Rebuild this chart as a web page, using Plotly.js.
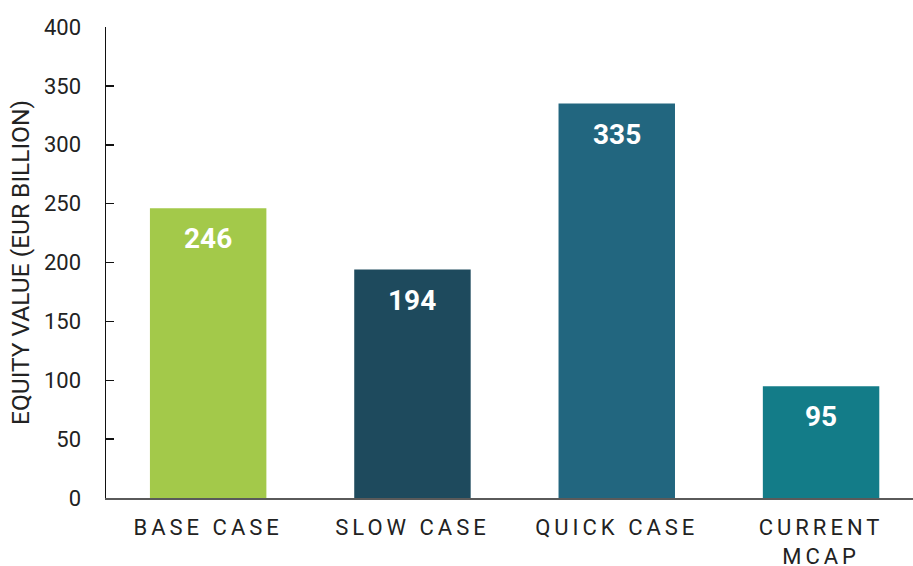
<!DOCTYPE html>
<html>
<head>
<meta charset="utf-8">
<script src="https://cdn.plot.ly/plotly-3.0.1.min.js"></script>
<style>
html,body{margin:0;padding:0;background:#fff;}
#chart{width:913px;height:566px;}
.xtick text{letter-spacing:4px;}
</style>
</head>
<body>
<div id="chart"></div>
<script>
const categories = ["BASE CASE", "SLOW CASE", "QUICK CASE", "CURRENT<br>MCAP"];
const values = [246, 194, 335, 95];
const barColors = ["#a3c94a", "#1e4a5d", "#22667f", "#137c88"];
const yTicks = [0, 50, 100, 150, 200, 250, 300, 350, 400];

const trace = {
  type: "bar",
  x: categories,
  y: values,
  marker: {color: barColors, line: {width: 0}},
  hoverinfo: "none",
  showlegend: false
};

const annotations = categories.map((c, i) => ({
  x: c, y: values[i], xref: "x", yref: "y",
  text: String(values[i]),
  showarrow: false,
  yanchor: "top",
  yshift: -12,
  font: {family: "Roboto", size: 28, color: "#ffffff", weight: 700}
}));

const layout = {
  width: 913, height: 566,
  margin: {l: 106, r: 0, t: 27, b: 68},
  paper_bgcolor: "#fff",
  plot_bgcolor: "#fff",
  bargap: 0.43,
  font: {family: "Roboto", color: "#222"},
  xaxis: {
    type: "category",
    range: [-0.5, 3.45],
    showline: true, linecolor: "#5a5a5a", linewidth: 2,
    ticks: "", showgrid: false, zeroline: false,
    tickfont: {family: "Roboto", size: 22, color: "#222"},
    ticklabelstandoff: 9,
    fixedrange: true
  },
  yaxis: {
    range: [0, 400],
    tickvals: yTicks,
    showline: true, linecolor: "#111", linewidth: 1.5,
    ticks: "inside", ticklen: 8, tickcolor: "#111", tickwidth: 1.5,
    showgrid: false, zeroline: false,
    tickfont: {family: "Roboto", size: 22, color: "#222"},
    ticklabelstandoff: 19,
    title: {text: "EQUITY VALUE (EUR BILLION)", font: {family: "Roboto", size: 24.5, color: "#222"}, standoff: 7},
    fixedrange: true
  },
  annotations: annotations
};

Plotly.newPlot("chart", [trace], layout, {displayModeBar: false, staticPlot: true});
</script>
</body>
</html>
